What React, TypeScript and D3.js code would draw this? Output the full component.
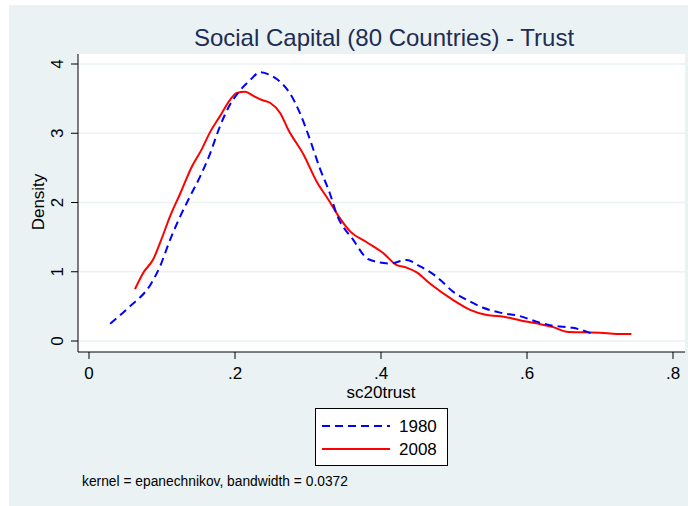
import React from "react";
import * as d3 from "d3";

const TITLE = "Social Capital (80 Countries) - Trust";
const X_LABEL = "sc20trust";
const Y_LABEL = "Density";
const NOTE = "kernel = epanechnikov, bandwidth = 0.0372";

const xTicks = [0, 0.2, 0.4, 0.6, 0.8];
const xTickLabels = ["0", ".2", ".4", ".6", ".8"];
const yTicks = [0, 1, 2, 3, 4];

const series1980X = [0.029, 0.056, 0.084, 0.097, 0.111, 0.125, 0.138, 0.152, 0.166, 0.179, 0.193, 0.207, 0.221, 0.234, 0.248, 0.262, 0.275, 0.289, 0.303, 0.316, 0.33, 0.339, 0.362, 0.383, 0.412, 0.435, 0.453, 0.476, 0.499, 0.522, 0.54, 0.563, 0.59, 0.613, 0.636, 0.663, 0.691];
const series1980Y = [0.25, 0.5, 0.81, 1.07, 1.46, 1.8, 2.08, 2.37, 2.71, 3.09, 3.41, 3.62, 3.77, 3.88, 3.84, 3.74, 3.58, 3.29, 2.9, 2.5, 2.13, 1.84, 1.46, 1.18, 1.12, 1.17, 1.08, 0.93, 0.71, 0.57, 0.48, 0.41, 0.36, 0.28, 0.22, 0.19, 0.1];

const series2008X = [0.063, 0.074, 0.088, 0.0996, 0.111, 0.125, 0.141, 0.154, 0.166, 0.179, 0.193, 0.202, 0.214, 0.225, 0.237, 0.248, 0.262, 0.273, 0.294, 0.312, 0.328, 0.342, 0.358, 0.38, 0.403, 0.421, 0.435, 0.449, 0.467, 0.499, 0.522, 0.545, 0.568, 0.59, 0.613, 0.636, 0.654, 0.677, 0.7, 0.723, 0.743];
const series2008Y = [0.75, 0.98, 1.18, 1.48, 1.8, 2.13, 2.52, 2.76, 3.02, 3.24, 3.48, 3.58, 3.6, 3.54, 3.48, 3.44, 3.29, 3.05, 2.69, 2.3, 2.04, 1.8, 1.58, 1.43, 1.27, 1.1, 1.06, 0.99, 0.83, 0.59, 0.45, 0.375, 0.35, 0.3, 0.255, 0.2, 0.135, 0.125, 0.12, 0.1, 0.1];

const legendLabels = ["1980", "2008"];

const FONT = "'Liberation Sans', Arial, Helvetica, sans-serif";

export default function App() {
  const W = 688;
  const H = 506;
  const plot = { left: 78, right: 685, top: 54, bottom: 352 };
  const x = d3.scaleLinear().domain([0, 0.8]).range([89, 673]);
  const y = d3.scaleLinear().domain([0, 4]).range([341, 64]);

  const line = d3
    .line<[number, number]>()
    .x((d) => x(d[0]))
    .y((d) => y(d[1]))
    .curve(d3.curveMonotoneX);

  const d1980 = line(series1980X.map((v, i) => [v, series1980Y[i]] as [number, number])) || "";
  const d2008 = line(series2008X.map((v, i) => [v, series2008Y[i]] as [number, number])) || "";

  const blue = "#0000FF";
  const red = "#FF0000";

  return (
    <svg
      width={W}
      height={H}
      style={{ position: "absolute", left: 0, top: 0 }}
      fontFamily={FONT}
    >
      <rect x={0} y={0} width={W} height={H} fill="#ffffff" />
      <rect x={9} y={5} width={W - 9} height={H - 5} fill="#EAF2F3" />
      <rect
        x={plot.left}
        y={plot.top}
        width={plot.right - plot.left}
        height={plot.bottom - plot.top}
        fill="#ffffff"
      />
      {yTicks.map((t) => (
        <line
          key={"g" + t}
          x1={plot.left}
          x2={plot.right}
          y1={y(t)}
          y2={y(t)}
          stroke="#EAF2F3"
          strokeWidth={1.5}
        />
      ))}
      <text x={384} y={46} textAnchor="middle" fontSize={24} fill="#1E2D53">
        {TITLE}
      </text>

      {/* y axis */}
      <line x1={plot.left} x2={plot.left} y1={plot.top} y2={plot.bottom} stroke="#000" strokeWidth={1} />
      {yTicks.map((t) => (
        <g key={"yt" + t}>
          <line x1={plot.left - 7} x2={plot.left} y1={y(t)} y2={y(t)} stroke="#000" strokeWidth={1} />
          <text
            transform={`translate(63,${y(t)}) rotate(-90)`}
            textAnchor="middle"
            fontSize={17}
            fill="#000"
          >
            {String(t)}
          </text>
        </g>
      ))}
      <text transform={`translate(44,202) rotate(-90)`} textAnchor="middle" fontSize={17} fill="#000">
        {Y_LABEL}
      </text>

      {/* x axis */}
      <line x1={plot.left} x2={plot.right} y1={plot.bottom} y2={plot.bottom} stroke="#000" strokeWidth={1} />
      {xTicks.map((t, i) => (
        <g key={"xt" + t}>
          <line x1={x(t)} x2={x(t)} y1={plot.bottom} y2={plot.bottom + 7} stroke="#000" strokeWidth={1} />
          <text x={x(t)} y={379} textAnchor="middle" fontSize={17} fill="#000">
            {xTickLabels[i]}
          </text>
        </g>
      ))}
      <text x={381} y={398} textAnchor="middle" fontSize={17} fill="#000">
        {X_LABEL}
      </text>

      {/* curves */}
      <path d={d2008} fill="none" stroke={red} strokeWidth={2} strokeLinejoin="round" />
      <path d={d1980} fill="none" stroke={blue} strokeWidth={2} strokeDasharray="8,5" />

      {/* legend */}
      <rect x={315.5} y={408.5} width={132} height={57} fill="#ffffff" stroke="#000" strokeWidth={1} />
      <line x1={322} x2={390} y1={426} y2={426} stroke={blue} strokeWidth={2} strokeDasharray="8,5" />
      <line x1={322} x2={390} y1={449} y2={449} stroke={red} strokeWidth={2} />
      <text x={399} y={432} fontSize={17} fill="#000">
        {legendLabels[0]}
      </text>
      <text x={399} y={455} fontSize={17} fill="#000">
        {legendLabels[1]}
      </text>

      <text x={82} y={486} fontSize={13.8} fill="#000">
        {NOTE}
      </text>
    </svg>
  );
}
